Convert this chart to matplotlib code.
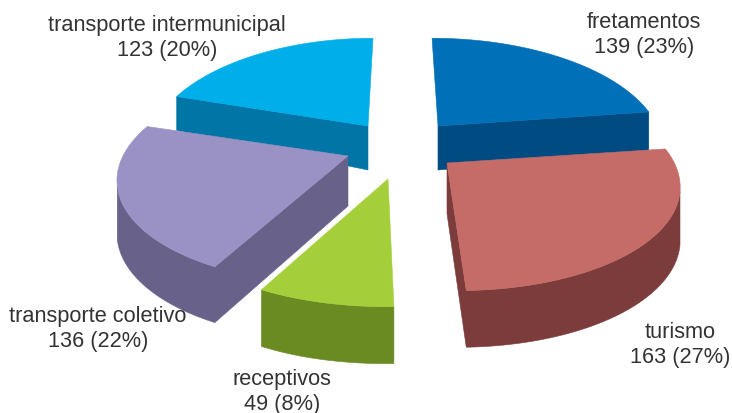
import numpy as np
import matplotlib
matplotlib.use("Agg")
import matplotlib.pyplot as plt
from matplotlib.patches import Polygon

categories = ["fretamentos", "turismo", "receptivos", "transporte coletivo", "transporte intermunicipal"]
values = [139, 163, 49, 136, 123]
percents = [23, 27, 8, 22, 20]

top_colors = ["#0071b9", "#c66c68", "#a5cf3a", "#9a92c4", "#00aeea"]
wall_colors = ["#004b82", "#7b3c3b", "#6a8a22", "#68628a", "#0075a6"]
# explode position of each slice's apex and horizontal radius factor
apex = [(438, 127), (447, 164), (388, 180), (348, 157), (368, 127)]
rx_factor = [0.945, 0.98, 0.98, 0.97, 0.92]
label_pos = [(644, 35), (680, 345), (282, 392), (98, 329), (167, 38)]

RX, RY, PERSP, X0 = 232, 104, 0.185, 400
DEPTH_Y = [98, 127, 157, 190, 300]
DEPTH_D = [34, 44, 50, 53, 57]

plt.rcParams["font.family"] = ["Liberation Sans", "DejaVu Sans"]
fig = plt.figure(figsize=(7.32, 4.14), dpi=100)
ax = fig.add_axes([0, 0, 1, 1])
ax.set_xlim(0, 732)
ax.set_ylim(414, 0)
ax.axis("off")


def project(c, f, u, v):
    k = 1 / (1 + PERSP * v)
    return X0 + (c[0] - X0 + RX * f * u) * k, c[1] - RY * v * k


fractions = np.array(values) / sum(values)
edges = np.pi / 2 - 2 * np.pi * np.concatenate([[0], np.cumsum(fractions)])

for i in [4, 0, 3, 2, 1]:
    th = np.linspace(edges[i], edges[i + 1], 80)
    u = np.concatenate([[0], np.cos(th), [0]])
    v = np.concatenate([[0], np.sin(th), [0]])
    x, y = project(apex[i], rx_factor[i], u, v)
    d = np.interp(y, DEPTH_Y, DEPTH_D)
    # outline runs clockwise on screen, so leftward segments face the viewer
    dx, dy = np.diff(x), np.diff(y)
    visible = -dx / np.hypot(dx, dy) > 0.1
    run = []
    for j in range(len(dx) + 1):
        if j < len(dx) and visible[j]:
            run.append(j)
        elif run:
            idx = run + [run[-1] + 1]
            pts = np.r_[np.c_[x[idx], y[idx]], np.c_[x[idx], y[idx] + d[idx]][::-1]]
            ax.add_patch(Polygon(pts, closed=True, fc=wall_colors[i], ec=wall_colors[i], lw=0.4))
            run = []
    ax.add_patch(Polygon(np.c_[x, y], closed=True, fc=top_colors[i], ec=top_colors[i], lw=0.4))

for name, val, pct, (lx, ly) in zip(categories, values, percents, label_pos):
    ax.text(lx, ly, f"{name}\n{val} ({pct}%)", ha="center", va="center",
            fontsize=15.7, color="#333333", linespacing=1.22)

fig.savefig("out.png", dpi=100)
